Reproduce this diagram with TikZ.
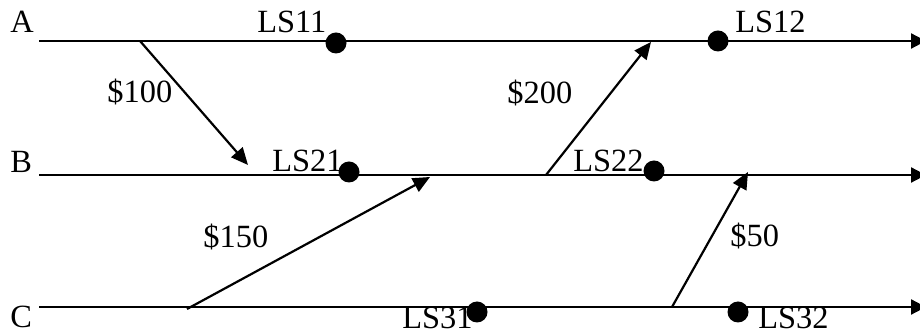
\documentclass[tikz,border=0pt]{standalone}
\usepackage{fontspec}
\setmainfont{Liberation Serif}
\usetikzlibrary{arrows.meta}

\begin{document}
\begin{tikzpicture}[x=0.5pt, y=-0.5pt,
  axis/.style={line width=1.1pt, -{Triangle[length=7.5pt, width=7.5pt]}},
  flow/.style={line width=1.1pt, -{Triangle[length=8.5pt, width=7.5pt]}},
  dot/.style={circle, fill=black, inner sep=0pt, minimum size=10.5pt},
  lbl/.style={anchor=base west, inner sep=0pt, font=\fontsize{16.2}{19}\selectfont}]
\useasboundingbox (0,0) rectangle (920,335);
% process lines
\foreach \p/\y/\b in {A/41/33, B/175/173, C/307/328}
  { \node[lbl] (n\p) at (10,\b) {\p}; \coordinate (\p0) at (39,\y); \coordinate (\p1) at (926,\y); \draw[axis] (\p0) -- (\p1); }
% local states
\foreach \s/\x/\y/\tx/\ty in {LS11/336/43/257/33, LS12/718/41/735/33, LS21/349/172/272/172, LS22/654/171/573/172, LS31/477/312/402/329, LS32/738/312/758/329}
  { \node[dot] (\s) at (\x,\y) {}; \node[lbl] (t\s) at (\tx,\ty) {\s}; }
% messages
\foreach \m/\xa/\ya/\xb/\yb/\tx/\ty/\t in {m1/140/41/248/165/107/103/{\$100}, m2/546/175/651/42/507/104/{\$200}, m3/187/309/430/177/203/248/{\$150}, m4/672/307/748/172/730/247/{\$50}}
  { \coordinate (\m s) at (\xa,\ya); \coordinate (\m e) at (\xb,\yb); \draw[flow] (\m s) -- (\m e); \node[lbl] (\m t) at (\tx,\ty) {\t}; }
\end{tikzpicture}
\end{document}
